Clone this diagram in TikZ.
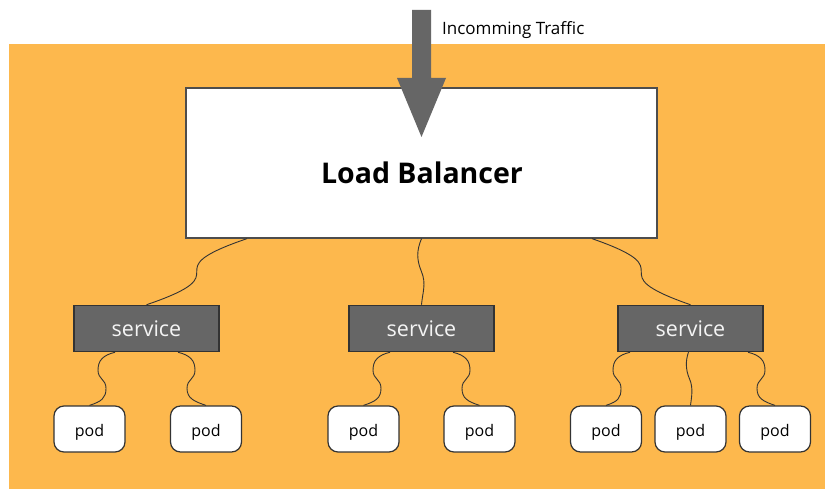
\documentclass[tikz,border=0pt]{standalone}
\usepackage{fontspec}
\setmainfont{Open Sans}
\usetikzlibrary{calc}
\definecolor{bgorange}{HTML}{FDB84D}
\definecolor{boxgray}{HTML}{666666}
\definecolor{edgegray}{HTML}{4D4D4D}
\definecolor{darkline}{HTML}{333333}
\definecolor{servtext}{HTML}{F4F4F4}
\tikzset{
  lbbox/.style={draw=edgegray, line width=1.3pt, fill=white, minimum width=471pt, minimum height=150pt, inner sep=0pt},
  servbox/.style={draw=darkline, line width=1.5pt, fill=boxgray, minimum width=145pt, minimum height=46pt, inner sep=0pt, text=servtext, font=\fontsize{21.5}{25}\selectfont},
  podbox/.style={draw=darkline, line width=1.2pt, fill=white, rounded corners=10pt, minimum width=71pt, minimum height=46pt, inner sep=0pt, text height=14.6pt, text depth=0pt, font=\fontsize{16}{19}\selectfont},
  link/.style={draw=darkline, line width=0.9pt},
}
\newcommand\podwave[3]{%
  \draw[link] (#1) .. controls ($(#1)+({12*(#3)},3)$) and ($(#1)+({17*(#3)},8)$) .. ($(#1)+({17*(#3)},18)$)
    .. controls ($(#1)+({17*(#3)},27)$) and ($(#1)+({9*(#3)},27)$) .. ($(#1)+({9*(#3)},36)$)
    .. controls ($(#1)+({9*(#3)},46)$) and ($(#2)+({-12*(#3)},-4)$) .. (#2);}
\begin{document}
\begin{tikzpicture}[x=1pt,y=-1pt]
\useasboundingbox (0,0) rectangle (825,489);
\fill[white] (0,0) rectangle (825,489);
\fill[bgorange] (9,44) rectangle (825,489);
% load balancer
\node[lbbox] (lb) at (421.5,163) {};
\node[anchor=base, inner sep=0pt, font=\fontsize{28.5}{34}\selectfont\bfseries] (lbl) at (422,184) {Load Balancer};
% services
\node[servbox] (s1) at (146.5,328.5) {service};
\node[servbox] (s2) at (421.5,328.5) {service};
\node[servbox] (s3) at (690.5,328.5) {service};
% pods
\node[podbox] (p1) at (89.5,429) {pod};
\node[podbox] (p2) at (206,429) {pod};
\node[podbox] (p3) at (363.5,429) {pod};
\node[podbox] (p4) at (479.5,429) {pod};
\node[podbox] (p5) at (606,429) {pod};
\node[podbox] (p6) at (690.5,429) {pod};
\node[podbox] (p7) at (775,429) {pod};
% incoming traffic arrow
\coordinate (arrtop) at (421.5,10);
\coordinate (arrtip) at (421.5,137);
\fill[boxgray] ($(arrtop)+(-9.5,0)$) -- ($(arrtop)+(9.5,0)$) -- ($(arrtip)+(9.5,-59)$) -- ($(arrtip)+(24.5,-59)$)
  -- (arrtip) -- ($(arrtip)+(-24.5,-59)$) -- ($(arrtip)+(-9.5,-59)$) -- cycle;
\node[anchor=base west, inner sep=0pt, font=\fontsize{17}{20}\selectfont] (traffic) at (442,35) {Incomming Traffic};
% LB to services
\coordinate (lbL) at ($(lb.south)+(-174.5,0)$);
\coordinate (lbM) at (lb.south);
\coordinate (lbR) at ($(lb.south)+(170.5,0)$);
\draw[link] (lbL) .. controls ($(lbL)+(-100,34)$) and ($(s1.north)+(100,-34)$) .. (s1.north);
\draw[link] (lbR) .. controls ($(lbR)+(98,34)$) and ($(s3.north)+(-98,-34)$) .. (s3.north);
\coordinate (lbMm) at ($(lbM)!0.5!(s2.north)$);
\draw[link] (lbM) .. controls ($(lbM)+(-5,12)$) and ($(lbMm)+(-5,-12)$) .. (lbMm)
  .. controls ($(lbMm)+(5,12)$) and ($(s2.north)+(1,-12)$) .. (s2.north);
% services to pods
\coordinate (s1a) at ($(s1.south)+(-31.5,0)$);
\coordinate (s1b) at ($(s1.south)+(31.5,0)$);
\coordinate (s2a) at ($(s2.south)+(-31.5,0)$);
\coordinate (s2b) at ($(s2.south)+(31.5,0)$);
\coordinate (s3a) at ($(s3.south)+(-60.5,0)$);
\coordinate (s3b) at ($(s3.south)+(-2,0)$);
\coordinate (s3c) at ($(s3.south)+(57.5,0)$);
\podwave{s1a}{p1.north}{-1}
\podwave{s1b}{p2.north}{1}
\podwave{s2a}{p3.north}{-1}
\podwave{s2b}{p4.north}{1}
\podwave{s3a}{p5.north}{-1}
\podwave{s3c}{p7.north}{1}
\coordinate (s3m) at ($(s3b)!0.5!(p6.north)$);
\draw[link] (s3b) .. controls ($(s3b)+(-3,8)$) and ($(s3m)+(-4,-9)$) .. (s3m)
  .. controls ($(s3m)+(4,9)$) and ($(p6.north)+(1,-8)$) .. (p6.north);
\end{tikzpicture}
\end{document}
